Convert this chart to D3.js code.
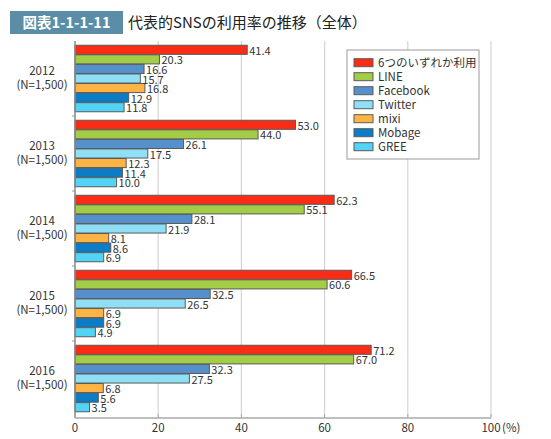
<!DOCTYPE html>
<html><head><meta charset="utf-8">
<script src="https://cdn.jsdelivr.net/npm/d3@7"></script>
<style>body{margin:0;background:#fff;}svg{display:block;font-family:"Noto Sans CJK JP","Noto Sans",sans-serif;}</style>
</head><body>
<script>
const years = ["2012", "2013", "2014", "2015", "2016"];
const yearSub = ["(N=1,500)", "(N=1,500)", "(N=1,500)", "(N=1,500)", "(N=1,500)"];
const seriesNames = ["6つのいずれか利用", "LINE", "Facebook", "Twitter", "mixi", "Mobage", "GREE"];
const seriesColors = ["#fb2c16", "#a3cd46", "#5590cc", "#8fe0f6", "#fdb444", "#0b7cc6", "#52d4f7"];
const anyUse   = [41.4, 53.0, 62.3, 66.5, 71.2];
const line     = [20.3, 44.0, 55.1, 60.6, 67.0];
const facebook = [16.6, 26.1, 28.1, 32.5, 32.3];
const twitter  = [15.7, 17.5, 21.9, 26.5, 27.5];
const mixi     = [16.8, 12.3, 8.1, 6.9, 6.8];
const mobage   = [12.9, 11.4, 8.6, 6.9, 5.6];
const gree     = [11.8, 10.0, 6.9, 4.9, 3.5];
const xTicks = [0, 20, 40, 60, 80, 100];
const titleTag = "図表1-1-1-11";
const titleText = "代表的SNSの利用率の推移（全体）";

const seriesValues = [anyUse, line, facebook, twitter, mixi, mobage, gree];

const W = 551, H = 439;
const svg = d3.select("body").append("svg").attr("width", W).attr("height", H);

// title
svg.append("rect").attr("x", 10).attr("y", 11).attr("width", 113).attr("height", 23).attr("fill", "#5b8ea6");
svg.append("text").attr("x", 66.5).attr("y", 28).attr("text-anchor", "middle").attr("fill", "#fff")
  .attr("font-size", 14.5).attr("font-weight", "bold").text(titleTag);
svg.append("text").attr("x", 128).attr("y", 28).attr("fill", "#222").attr("font-size", 15).text(titleText);

const x = d3.scaleLinear().domain([0, 100]).range([75, 491]);
const y = d3.scaleBand().domain(years).range([41, 416]).paddingInner(0).paddingOuter(0);
const yIn = d3.scaleBand().domain(d3.range(seriesNames.length)).range([0, 66.5]).paddingInner(0.05).paddingOuter(0);
const groupOffset = (y.bandwidth() - 66.5) / 2;

// gridlines
svg.append("g").selectAll("line").data(xTicks.slice(1)).join("line")
  .attr("x1", d => x(d)).attr("x2", d => x(d)).attr("y1", 41).attr("y2", 417)
  .attr("stroke", "#d4d4d4").attr("stroke-width", 1.2);

// bars
const groups = svg.append("g").selectAll("g").data(years).join("g")
  .attr("transform", d => `translate(0,${y(d) + groupOffset})`);
groups.each(function(yr, gi) {
  const g = d3.select(this);
  const data = seriesValues.map((vals, si) => ({si, v: vals[gi]}));
  g.selectAll("rect").data(data).join("rect")
    .attr("x", x(0)).attr("y", d => yIn(d.si))
    .attr("width", d => x(d.v) - x(0)).attr("height", yIn.bandwidth())
    .attr("fill", d => seriesColors[d.si]).attr("stroke", "#5a5a5a").attr("stroke-width", 1);
  g.selectAll("text").data(data).join("text")
    .attr("x", d => x(d.v) + 2).attr("y", d => yIn(d.si) + yIn.bandwidth() / 2 + 5)
    .attr("font-size", 11).attr("fill", "#333").text(d => d.v.toFixed(1));
});

// y labels
const yl = svg.append("g").selectAll("g").data(years).join("g");
yl.append("text").attr("x", 42).attr("y", d => y(d) + y.bandwidth() / 2 - 4)
  .attr("text-anchor", "middle").attr("font-size", 11.5).attr("fill", "#333").text(d => d);
yl.append("text").attr("x", 42).attr("y", (d, i) => y(d) + y.bandwidth() / 2 + 10)
  .attr("text-anchor", "middle").attr("font-size", 11.5).attr("fill", "#333").text((d, i) => yearSub[i]);

// group ticks
svg.append("g").selectAll("line").data(years.slice(1)).join("line")
  .attr("x1", 72).attr("x2", 75).attr("y1", d => y(d)).attr("y2", d => y(d))
  .attr("stroke", "#999");

// axes lines
svg.append("line").attr("x1", x(0)).attr("x2", x(0)).attr("y1", 41).attr("y2", 418).attr("stroke", "#888").attr("stroke-width", 1.5);
svg.append("line").attr("x1", x(0)).attr("x2", x(100)).attr("y1", 418).attr("y2", 418).attr("stroke", "#aaa").attr("stroke-width", 1.5);
svg.append("g").selectAll("line").data(xTicks).join("line")
  .attr("x1", d => x(d)).attr("x2", d => x(d)).attr("y1", 414).attr("y2", 418).attr("stroke", "#aaa");

// x tick labels
svg.append("g").selectAll("text").data(xTicks).join("text")
  .attr("x", d => x(d)).attr("y", 432).attr("text-anchor", "middle")
  .attr("font-size", 11.5).attr("fill", "#333").text(d => d);
svg.append("text").attr("x", x(100) + 11).attr("y", 432).attr("font-size", 11.5).attr("fill", "#333").text("(%)");

// legend
const lg = svg.append("g");
lg.append("rect").attr("x", 347).attr("y", 50).attr("width", 132).attr("height", 109)
  .attr("fill", "#fff").attr("stroke", "#999");
const items = lg.selectAll("g").data(seriesNames).join("g")
  .attr("transform", (d, i) => `translate(354,${62.7 + i * 14})`);
items.append("rect").attr("x", 0).attr("y", -4).attr("width", 19).attr("height", 8)
  .attr("fill", (d, i) => seriesColors[i]).attr("stroke", "#5a5a5a");
items.append("text").attr("x", 24).attr("y", 4.5).attr("font-size", 11.5).attr("fill", "#333").text(d => d);
</script>
</body></html>
